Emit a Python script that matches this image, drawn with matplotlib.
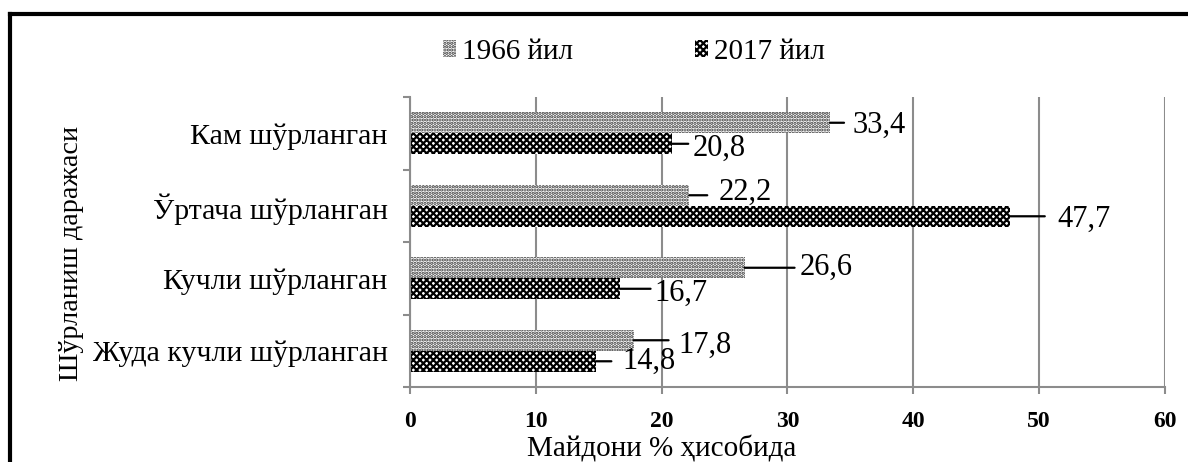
import numpy as np
import matplotlib.pyplot as plt
from matplotlib.patches import Patch
from matplotlib.lines import Line2D

plt.rcParams['font.family'] = ['Liberation Serif', 'DejaVu Serif']
plt.rcParams['hatch.linewidth'] = 1.6

# --- data ---
categories = ['Кам шўрланган', 'Ўртача шўрланган', 'Кучли шўрланган', 'Жуда кучли шўрланган']
years = ['1966 йил', '2017 йил']
values_1966 = [33.4, 22.2, 26.6, 17.8]
values_2017 = [20.8, 47.7, 16.7, 14.8]

# leader line length and label offset (points) for each bar
lead_1966 = [(10, 16, 2), (13, 21, -2), (36, 40, 0), (25, 32, 4)]
lead_2017 = [(12, 15, 3), (25, 34, 2), (22, 25, 3), (11, 19, 0)]

fig = plt.figure(figsize=(11.88, 4.62), dpi=100)
ax = fig.add_axes([0.345, 0.1623, 0.6355, 0.6277])

y = np.arange(len(categories))
h = 0.29
styles = [dict(facecolor='white', edgecolor='#333333', hatch='.....'),
          dict(facecolor='white', edgecolor='black', hatch='xxxxx')]

bars_a = ax.barh(y - h / 2, values_1966, height=h, linewidth=0, **styles[0])
bars_b = ax.barh(y + h / 2, values_2017, height=h, linewidth=0, **styles[1])

def add_labels(bars, vals, leads):
    for b, v, (ln, dx, dy) in zip(bars, vals, leads):
        yc = b.get_y() + b.get_height() / 2
        # horizontal leader line from the bar end
        ax.annotate('', xy=(v, yc), xytext=(ln, 0), textcoords='offset points',
                    arrowprops=dict(arrowstyle='-', color='black', lw=1.6,
                                    shrinkA=0, shrinkB=0))
        ax.annotate(f'{v:.1f}'.replace('.', ','), xy=(v, yc),
                    xytext=(dx, -dy), textcoords='offset points',
                    ha='left', va='center', fontsize=22)

add_labels(bars_a, values_1966, lead_1966)
add_labels(bars_b, values_2017, lead_2017)

ax.set_xlim(0, 60)
ax.set_xticks(np.arange(0, 61, 10))
ax.set_ylim(len(categories) - 0.5, -0.5)
ax.set_yticks(y)
ax.set_yticklabels(categories, fontsize=21.5)
ax.set_yticks(np.arange(-0.5, len(categories), 1), minor=True)
ax.tick_params(axis='y', which='major', length=0, pad=16)
ax.tick_params(axis='y', which='minor', length=5, color='#8c8c8c', width=1.5)
ax.tick_params(axis='x', length=5, color='#8c8c8c', width=1.5, pad=12)
for t in ax.get_xticklabels():
    t.set_fontweight('bold')
    t.set_fontsize(17)

ax.grid(axis='x', color='#8c8c8c', lw=1.5)
ax.set_axisbelow(True)
for s in ['top', 'right']:
    ax.spines[s].set_visible(False)
for s in ['left', 'bottom']:
    ax.spines[s].set_color('#8c8c8c')
    ax.spines[s].set_linewidth(1.5)

ax.set_ylabel('Шўрланиш даражаси', fontsize=20.3)
ax.yaxis.set_label_coords(-0.432, 0.46)
fig.text(0.557, 0.011, 'Майдони % ҳисобида', fontsize=21, ha='center', va='baseline')

handles = [Patch(linewidth=0, **styles[0]), Patch(linewidth=0, **styles[1])]
fig.legend(handles, years, loc='center', bbox_to_anchor=(0.5335, 0.888), ncol=2,
           frameon=False, fontsize=21, handlelength=0.45, handleheight=0.55,
           handletextpad=0.2, columnspacing=4.2)

# outer frame (top and left edges)
fig.add_artist(Line2D([0.0085, 1.0], [0.97, 0.97], transform=fig.transFigure, color='black', lw=3))
fig.add_artist(Line2D([0.0085, 0.0085], [0.0, 0.97], transform=fig.transFigure, color='black', lw=3))

fig.savefig('out.png', dpi=100)
